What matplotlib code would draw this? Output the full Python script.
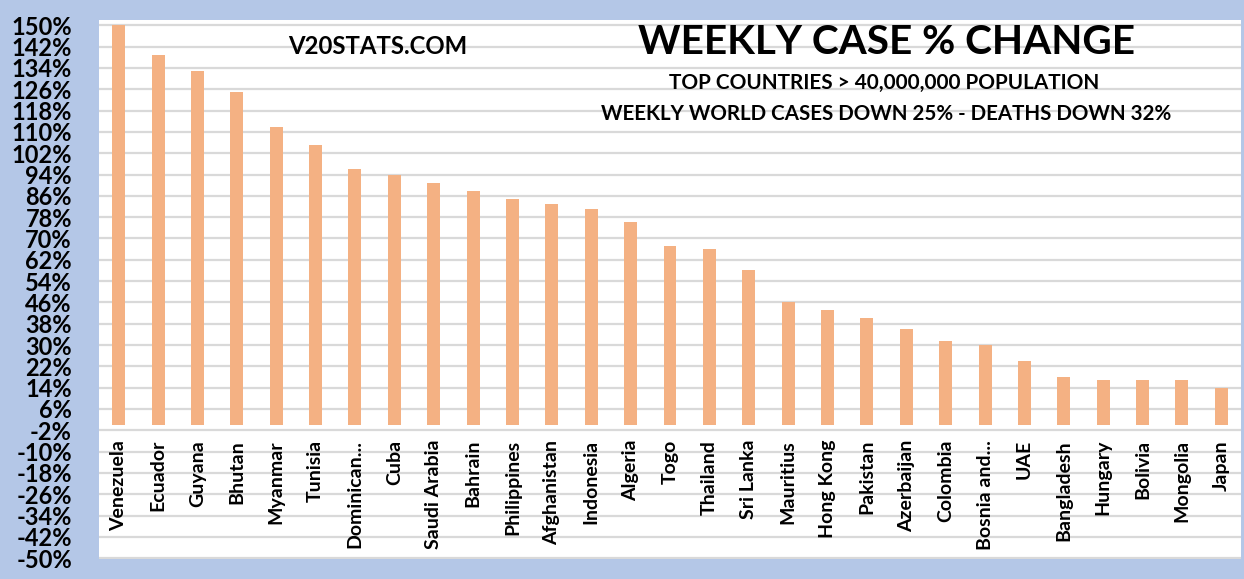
import matplotlib
matplotlib.use("Agg")
import matplotlib.pyplot as plt
import numpy as np

countries = ["Venezuela", "Ecuador", "Guyana", "Bhutan", "Myanmar", "Tunisia",
             "Dominican...", "Cuba", "Saudi Arabia", "Bahrain", "Philippines",
             "Afghanistan", "Indonesia", "Algeria", "Togo", "Thailand", "Sri Lanka",
             "Mauritius", "Hong Kong", "Pakistan", "Azerbaijan", "Colombia",
             "Bosnia and...", "UAE", "Bangladesh", "Hungary", "Bolivia", "Mongolia",
             "Japan"]
pct_change = [150, 139, 133, 125, 112, 105, 96, 94, 91, 88, 85, 83, 81, 76, 67, 66,
              58, 46, 43, 40, 36, 31.5, 30, 24, 18, 17, 17, 17, 14]
y_ticks = list(range(-50, 151, 8))

title = "WEEKLY CASE % CHANGE"
subtitle1 = "TOP COUNTRIES > 40,000,000 POPULATION"
subtitle2 = "WEEKLY WORLD CASES DOWN 25% - DEATHS DOWN 32%"
watermark = "V20STATS.COM"

FONT = ["Lato", "DejaVu Sans"]
BG = "#B4C7E7"
BAR = "#F4B183"
GRID = "#D9D9D9"

W, H = 1244, 579
fig = plt.figure(figsize=(W / 100, H / 100), dpi=100)
fig.patch.set_facecolor(BG)

left, right, top, bottom = 99, 1241, 20, 559
ax = fig.add_axes([left / W, 1 - bottom / H, (right - left) / W, (bottom - top) / H])
ax.set_facecolor("white")

x = np.arange(len(countries))
ax.bar(x, pct_change, width=0.33, color=BAR, zorder=3)
ax.set_xlim(-0.5, len(countries) - 0.5)
ax.set_ylim(-50.3, 152.0)
ax.set_yticks(y_ticks)
ax.set_yticklabels([f"{v}%" for v in y_ticks], fontsize=17, fontweight="bold",
                   family=FONT, color="black")
ax.tick_params(axis="y", length=0, pad=19.5)
ax.set_xticks([])
ax.yaxis.grid(True, color=GRID, linewidth=1.6, zorder=0)
ax.set_axisbelow(True)
for s in ax.spines.values():
    s.set_visible(False)

for i, name in enumerate(countries):
    ax.text(i, -5.6, name, rotation=90, ha="center", va="top", fontsize=14,
            fontweight="bold", family=FONT, color="black", zorder=4)

fig.canvas.draw()
renderer = fig.canvas.get_renderer()


def put(txt, cx, cy, width_px, size0):
    t = fig.text(cx / W, 1 - cy / H, txt, ha="center", va="center", fontsize=size0,
                 fontweight="bold", family=FONT, color="black")
    w = t.get_window_extent(renderer).width
    t.set_fontsize(size0 * width_px / w)
    return t


put(title, 886, 42, 498, 30)
put(subtitle1, 884, 83, 435, 14)
put(subtitle2, 886, 114, 572, 14)
put(watermark, 378, 46, 180, 16)

fig.savefig("out.png", dpi=100, facecolor=BG)
